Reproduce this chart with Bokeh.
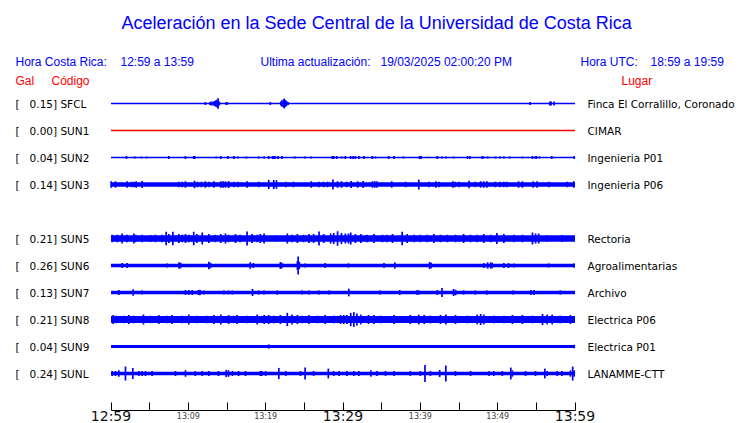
from bokeh.plotting import figure
from bokeh.models import Range1d, LinearAxis, FixedTicker
from bokeh.core.properties import value
from bokeh.embed import file_html
from bokeh.resources import INLINE

# ---------------- data ----------------
TITLE = "Aceleración en la Sede Central de la Universidad de Costa Rica"
HORA_CR = "12:59 a 13:59"
ULTIMA = "19/03/2025 02:00:20 PM"
HORA_UTC = "18:59 a 19:59"

CODES = ["SFCL", "SUN1", "SUN2", "SUN3", "SUN4", "SUN5", "SUN6", "SUN7", "SUN8", "SUN9", "SUNL"]
PGA_GAL = [0.15, 0.00, 0.04, 0.14, None, 0.21, 0.26, 0.13, 0.21, 0.04, 0.24]
PLACES = ["Finca El Corralillo, Coronado", "CIMAR", "Ingenieria P01", "Ingenieria P06", None,
          "Rectoria", "Agroalimentarias", "Archivo", "Electrica P06", "Electrica P01", "LANAMME-CTT"]
# background noise half-amplitude of each trace (Gal)
NOISE_GAL = [0.0, 0.0, 0.0, 0.065, None, 0.09, 0.05, 0.05, 0.10, 0.04, 0.05]

# minutes after 12:59
TICK_MINUTES = [0, 5, 10, 15, 20, 25, 30, 35, 40, 45, 50, 55, 60]
SMALL_TICK_LABELS = {10: "13:09", 20: "13:19", 40: "13:39", 50: "13:49"}
BIG_TICK_LABELS = {0: "12:59", 30: "13:29", 60: "13:59"}

# bursts: (minute, half-amplitude in Gal)
SFCL_SPIKES = [(12.2, 0.04), (12.8, 0.04), (12.95, 0.06), (13.2, 0.06), (13.4, 0.07), (13.55, 0.09),
               (13.7, 0.11), (13.85, 0.15), (14.0, 0.06), (14.9, 0.04), (15.1, 0.03), (20.6, 0.04),
               (21.96, 0.06), (22.1, 0.09), (22.3, 0.11), (22.4, 0.14), (22.55, 0.10), (22.7, 0.07),
               (22.9, 0.04), (54.2, 0.04), (56.75, 0.06), (56.9, 0.06), (57.3, 0.06)]
SUN1_SPIKES = []
SUN2_SPIKES = [(2.0, 0.04), (3.08, 0.03), (3.94, 0.03), (4.59, 0.03), (7.48, 0.04), (9.63, 0.04),
               (10.7, 0.04), (10.85, 0.04), (13.6, 0.03), (14.2, 0.04), (15.1, 0.04), (15.9, 0.04),
               (16.4, 0.03), (17.5, 0.03), (19.1, 0.03), (19.8, 0.03), (20.4, 0.04), (20.9, 0.04),
               (21.05, 0.04), (21.2, 0.04), (21.6, 0.04), (22.1, 0.04), (23.8, 0.03), (25.1, 0.03),
               (25.9, 0.03), (28.6, 0.04), (28.7, 0.04), (28.8, 0.04), (29.2, 0.04), (29.8, 0.03),
               (30.3, 0.04), (31.0, 0.04), (31.3, 0.04), (31.6, 0.04), (32.05, 0.04), (32.7, 0.04),
               (33.8, 0.04), (34.2, 0.03), (35.9, 0.04), (36.6, 0.04), (37.8, 0.03), (39.9, 0.04),
               (40.0, 0.04), (40.1, 0.04), (42.2, 0.04), (42.8, 0.03), (43.3, 0.03), (44.3, 0.03),
               (46.1, 0.04), (46.4, 0.04), (48.0, 0.04), (48.2, 0.03), (48.7, 0.03), (49.7, 0.03),
               (50.3, 0.03), (50.8, 0.03), (51.6, 0.03), (53.2, 0.03), (54.5, 0.04), (54.8, 0.03),
               (55.0, 0.04), (55.4, 0.03), (57.0, 0.04), (59.9, 0.04)]
SUN3_SPIKES = [(0.02, 0.09), (0.58, 0.09), (2.09, 0.09), (2.65, 0.08), (2.95, 0.08), (3.25, 0.09),
               (4.03, 0.10), (8.77, 0.08), (9.2, 0.08), (9.63, 0.09), (10.8, 0.11), (11.2, 0.08),
               (11.7, 0.08), (12.2, 0.09), (12.65, 0.08), (13.3, 0.09), (14.2, 0.09), (14.5, 0.09),
               (14.8, 0.09), (15.2, 0.10), (15.9, 0.08), (16.4, 0.08), (17.6, 0.09), (19.1, 0.08),
               (20.4, 0.13), (21.05, 0.13), (21.4, 0.12), (22.6, 0.08), (23.6, 0.08), (25.9, 0.09),
               (26.9, 0.08), (27.5, 0.08), (28.0, 0.08), (28.7, 0.14), (29.3, 0.09), (29.8, 0.09),
               (30.5, 0.08), (31.06, 0.10), (31.9, 0.09), (32.6, 0.10), (33.8, 0.09), (34.1, 0.09),
               (34.4, 0.09), (36.3, 0.09), (38.1, 0.08), (39.8, 0.14), (41.1, 0.08), (42.0, 0.09),
               (42.4, 0.08), (44.2, 0.09), (44.5, 0.08), (45.0, 0.08), (46.3, 0.11), (47.1, 0.08),
               (47.8, 0.09), (48.2, 0.09), (48.6, 0.09), (49.7, 0.08), (50.3, 0.08), (50.8, 0.08),
               (51.2, 0.08), (52.7, 0.09), (53.2, 0.09), (54.6, 0.09), (55.1, 0.09), (56.6, 0.08),
               (59.0, 0.08), (59.85, 0.09)]
SUN5_SPIKES = [(0.15, 0.11), (0.8, 0.11), (1.44, 0.14), (2.09, 0.11), (2.95, 0.14), (3.17, 0.11),
               (4.03, 0.11), (5.1, 0.10), (5.75, 0.11), (6.6, 0.11), (7.13, 0.19), (7.48, 0.13),
               (8.0, 0.19), (8.77, 0.13), (9.2, 0.11), (9.63, 0.13), (10.06, 0.11), (10.7, 0.19),
               (11.1, 0.13), (11.8, 0.17), (12.65, 0.13), (13.5, 0.11), (14.2, 0.13), (14.8, 0.14),
               (15.2, 0.11), (16.1, 0.13), (16.7, 0.11), (17.6, 0.20), (18.25, 0.13), (18.9, 0.11),
               (19.3, 0.13), (19.8, 0.14), (21.3, 0.09), (22.8, 0.14), (23.4, 0.11), (24.1, 0.13),
               (24.9, 0.11), (25.6, 0.13), (26.2, 0.13), (26.9, 0.20), (27.5, 0.13), (28.4, 0.14),
               (28.8, 0.16), (29.3, 0.21), (29.8, 0.16), (30.3, 0.14), (30.7, 0.14), (31.0, 0.17),
               (31.6, 0.13), (32.3, 0.13), (33.1, 0.11), (34.0, 0.13), (35.1, 0.11), (35.7, 0.11),
               (36.4, 0.13), (37.65, 0.19), (38.3, 0.13), (39.2, 0.11), (40.0, 0.11), (40.9, 0.11),
               (41.75, 0.13), (42.6, 0.11), (43.5, 0.11), (44.55, 0.11), (45.6, 0.13), (46.5, 0.11),
               (47.35, 0.11), (48.2, 0.13), (49.1, 0.11), (49.9, 0.16), (50.8, 0.13), (52.1, 0.11),
               (53.2, 0.11), (54.5, 0.17), (54.9, 0.14), (55.3, 0.14), (56.4, 0.09), (58.3, 0.10)]
SUN6_SPIKES = [(1.44, 0.07), (2.09, 0.07), (7.26, 0.06), (8.8, 0.09), (9.0, 0.08), (12.65, 0.11),
               (12.86, 0.08), (18.0, 0.09), (18.4, 0.07), (21.9, 0.10), (22.1, 0.08), (24.1, 0.12),
               (24.2, 0.26), (24.35, 0.10), (25.1, 0.06), (27.7, 0.07), (30.7, 0.06), (35.3, 0.07),
               (36.7, 0.09), (41.2, 0.10), (41.4, 0.08), (48.2, 0.07), (48.7, 0.09), (49.1, 0.09),
               (49.3, 0.08), (50.8, 0.07), (51.4, 0.07), (52.1, 0.06), (56.6, 0.06), (59.85, 0.06)]
SUN7_SPIKES = [(1.01, 0.07), (2.87, 0.09), (4.03, 0.06), (9.63, 0.07), (10.06, 0.07), (10.5, 0.07),
               (11.3, 0.07), (11.5, 0.08), (12.0, 0.06), (14.6, 0.06), (15.2, 0.06), (15.7, 0.06),
               (18.3, 0.10), (19.1, 0.06), (19.8, 0.06), (21.5, 0.06), (24.7, 0.06), (25.6, 0.06),
               (26.9, 0.06), (28.2, 0.06), (30.75, 0.11), (34.8, 0.06), (37.35, 0.07), (39.6, 0.07),
               (39.8, 0.06), (42.2, 0.07), (42.8, 0.13), (44.3, 0.10), (44.55, 0.08), (45.6, 0.06),
               (47.1, 0.06), (48.6, 0.06), (52.0, 0.06), (54.3, 0.07), (54.7, 0.07), (58.1, 0.06)]
SUN8_SPIKES = [(0.28, 0.13), (0.71, 0.11), (1.66, 0.11), (2.3, 0.13), (2.95, 0.11), (4.2, 0.14),
               (5.1, 0.11), (6.2, 0.13), (7.26, 0.11), (7.9, 0.13), (9.2, 0.11), (10.06, 0.14),
               (11.1, 0.11), (12.4, 0.11), (13.3, 0.13), (14.2, 0.14), (15.2, 0.13), (15.9, 0.11),
               (16.3, 0.13), (17.6, 0.11), (18.9, 0.14), (19.8, 0.13), (20.4, 0.13), (21.05, 0.11),
               (21.9, 0.13), (22.8, 0.19), (23.4, 0.14), (24.1, 0.13), (24.7, 0.11), (25.6, 0.13),
               (26.7, 0.11), (27.7, 0.13), (28.8, 0.11), (29.7, 0.13), (30.1, 0.13), (30.5, 0.13),
               (31.0, 0.19), (31.4, 0.21), (31.8, 0.17), (32.3, 0.14), (33.3, 0.13), (34.0, 0.13),
               (34.85, 0.11), (36.6, 0.13), (38.7, 0.13), (39.8, 0.14), (40.5, 0.13), (41.3, 0.11),
               (42.6, 0.13), (43.3, 0.14), (44.55, 0.13), (46.1, 0.11), (47.35, 0.14), (47.8, 0.16),
               (48.2, 0.14), (49.5, 0.11), (50.8, 0.11), (51.9, 0.13), (53.2, 0.13), (54.5, 0.11),
               (55.8, 0.16), (56.4, 0.14), (57.05, 0.14), (58.1, 0.11), (59.4, 0.13)]
SUN9_SPIKES = [(20.4, 0.06), (59.9, 0.05)]
SUNL_SPIKES = [(0.15, 0.07), (0.58, 0.07), (1.01, 0.09), (1.87, 0.20), (2.82, 0.16), (3.6, 0.07),
               (4.03, 0.07), (4.46, 0.07), (5.32, 0.07), (8.34, 0.07), (9.63, 0.09), (10.9, 0.07),
               (11.8, 0.07), (12.65, 0.07), (13.9, 0.07), (14.9, 0.10), (15.2, 0.09), (15.7, 0.07),
               (16.5, 0.07), (17.4, 0.07), (19.3, 0.07), (19.5, 0.07), (20.0, 0.07), (21.7, 0.16),
               (22.6, 0.07), (24.5, 0.07), (25.1, 0.17), (26.2, 0.07), (28.1, 0.14), (28.8, 0.07),
               (29.5, 0.07), (30.5, 0.07), (31.4, 0.07), (32.05, 0.07), (33.6, 0.09), (34.4, 0.07),
               (35.5, 0.07), (36.6, 0.07), (38.7, 0.07), (40.0, 0.07), (40.6, 0.24), (41.3, 0.07),
               (42.5, 0.10), (43.3, 0.23), (44.55, 0.07), (46.5, 0.07), (48.9, 0.07), (49.5, 0.07),
               (50.6, 0.07), (51.7, 0.17), (51.9, 0.09), (53.6, 0.07), (54.9, 0.07), (56.1, 0.14),
               (56.4, 0.07), (57.7, 0.07), (58.3, 0.07), (59.4, 0.09), (59.7, 0.20), (59.9, 0.09)]

SPIKES = {"SFCL": SFCL_SPIKES, "SUN1": SUN1_SPIKES, "SUN2": SUN2_SPIKES, "SUN3": SUN3_SPIKES,
          "SUN5": SUN5_SPIKES, "SUN6": SUN6_SPIKES, "SUN7": SUN7_SPIKES, "SUN8": SUN8_SPIKES,
          "SUN9": SUN9_SPIKES, "SUNL": SUNL_SPIKES}

# ---------------- layout ----------------
W, H = 740, 423
X0_PX = 110.5           # page x of minute 0
PX_PER_MIN = 464.0 / 60.0
ROW0_PX = 103.0         # page y of first trace
ROW_PX = 27.0
GAIN = 35.0 / ROW_PX    # rows per Gal
AXIS_PX = 409.5

BLUE = "#0000ff"
RED = "#ff0000"


def xm(px):
    return (px - X0_PX) / PX_PER_MIN


def yr(py):
    return (py - ROW0_PX) / ROW_PX


p = figure(width=W, height=H, output_backend="svg", toolbar_location=None,
           x_range=Range1d(xm(0), xm(W)), y_range=Range1d(yr(H), yr(0)),
           x_axis_location=None, y_axis_location=None,
           min_border_left=0, min_border_right=0, min_border_top=0, min_border_bottom=0)
p.outline_line_color = None
p.xgrid.grid_line_color = None
p.ygrid.grid_line_color = None
p.background_fill_color = "white"
p.border_fill_color = "white"

# traces
for row, code in enumerate(CODES):
    if PGA_GAL[row] is None:
        continue
    color = RED if PGA_GAL[row] == 0 else BLUE
    noise = NOISE_GAL[row]
    if noise > 0:
        p.quad(left=[0], right=[60], bottom=[row - noise * GAIN], top=[row + noise * GAIN],
               fill_color=color, line_color=None)
    p.line([0, 60], [row, row], line_color=color, line_width=1.3)
    sp = SPIKES[code]
    if sp:
        t = [s[0] for s in sp]
        a = [s[1] for s in sp]
        p.segment(x0=t, x1=t, y0=[row - v * GAIN for v in a], y1=[row + v * GAIN for v in a],
                  line_color=color, line_width=1.7)

# time axis drawn inside the frame
ax = LinearAxis(ticker=FixedTicker(ticks=TICK_MINUTES), fixed_location=yr(AXIS_PX), bounds=(0, 60),
                major_label_overrides={m: SMALL_TICK_LABELS.get(m, "") for m in TICK_MINUTES},
                major_tick_in=8, major_tick_out=0, minor_tick_line_color=None,
                major_label_text_font_size="8px", major_label_text_font="DejaVu Sans",
                major_label_standoff=2, axis_line_color="black", major_tick_line_color="black")
p.add_layout(ax, "below")
big = list(BIG_TICK_LABELS.items())
p.text(x=[m for m, _ in big], y=[yr(415.5)] * len(big), text=[s for _, s in big],
       text_align="center", text_baseline="middle", text_font=value("DejaVu Sans"),
       text_font_size=value("14px"), text_color="#111111")

# station labels
rows = [r for r in range(len(CODES)) if PGA_GAL[r] is not None]
p.text(x=[xm(15)] * len(rows), y=rows,
       text=["[\u00a0\u00a0\u00a0%.2f] %s" % (PGA_GAL[r], CODES[r]) for r in rows],
       text_align="left", text_baseline="middle", text_font=value("DejaVu Sans"),
       text_font_size=value("10.5px"), text_color="black")
p.text(x=[xm(587)] * len(rows), y=rows, text=[PLACES[r] for r in rows],
       text_align="left", text_baseline="middle", text_font=value("DejaVu Sans"),
       text_font_size=value("10.5px"), text_color="black")


# header texts
def header(px, py, txt, color, size="12px"):
    p.text(x=[xm(px)], y=[yr(py)], text=[txt], text_align="left", text_baseline="middle",
           text_font=value("Liberation Sans"), text_font_size=value(size), text_color=color)


header(121, 22.5, TITLE, BLUE, "18px")
header(15, 61, "Hora Costa Rica:", BLUE)
header(120, 61, HORA_CR, BLUE)
header(260, 61, "Ultima actualización:", BLUE)
header(380, 61, ULTIMA, BLUE)
header(580, 61, "Hora UTC:", BLUE)
header(650, 61, HORA_UTC, BLUE)
header(15, 80, "Gal", RED)
header(51, 80, "Código", RED)
header(621, 80, "Lugar", RED)

open("out.html", "w").write(file_html(p, INLINE))
